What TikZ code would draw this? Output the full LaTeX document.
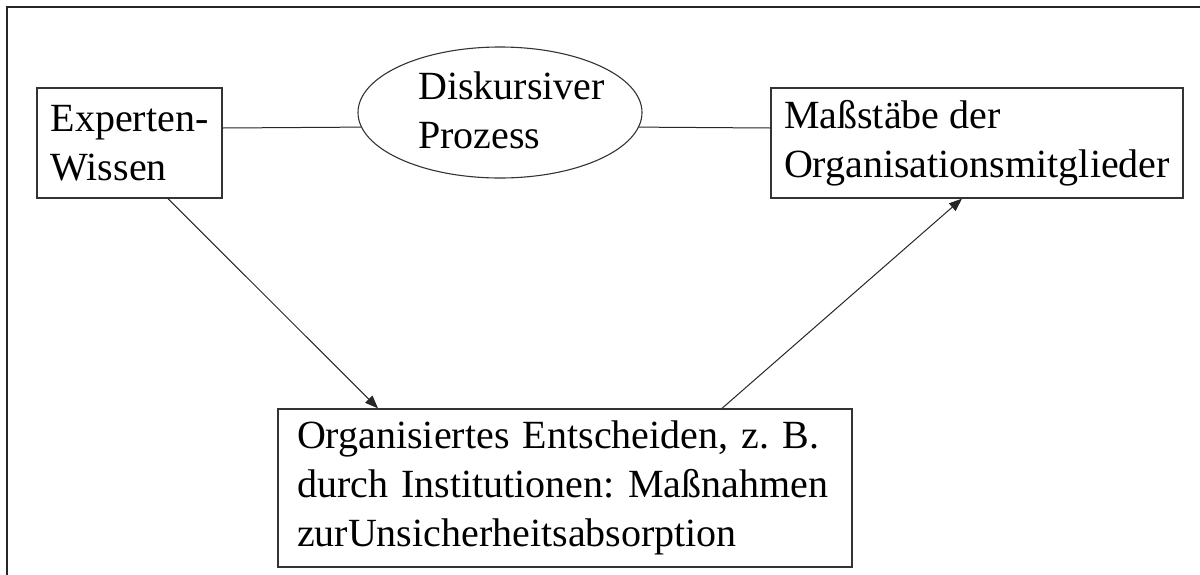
\documentclass[tikz,border=0pt]{standalone}
\usepackage{fontspec}
\setmainfont{Liberation Serif}
\usetikzlibrary{arrows.meta,shapes.geometric}
\frenchspacing
\begin{document}
\begin{tikzpicture}[x=1pt,y=-1pt,
  every node/.style={font=\fontsize{40}{49}\selectfont},
  boxnode/.style={draw=black!80, line width=1.3pt, rectangle, inner sep=0pt, align=left},
  ovalnode/.style={draw=black!80, line width=1.1pt, ellipse, inner sep=0pt},
  conn/.style={line width=1pt, draw=black!85},
  arr/.style={conn, -{Triangle[length=13pt,width=10pt]}},
  frameline/.style={line width=1.4pt, draw=black!85}]
\useasboundingbox (0,0) rectangle (1200,574);
\draw[frameline] (7,580) -- (7,7) -- (1205,7);
\node[boxnode, minimum width=185pt, minimum height=110pt] (expert) at (129.5,143) {Experten-\\Wissen};
\node[boxnode, minimum width=412pt, minimum height=110pt] (mass) at (977,143) {Maßstäbe der\\Organisationsmitglieder};
\node[boxnode, minimum width=574pt, minimum height=158pt, text width=536pt, inner xsep=19pt] (org) at (565,488) {Organisiertes Entscheiden, z. B.\\durch Institutionen: Maßnahmen\\zurUnsicherheitsabsorption};
\node[ovalnode, minimum width=284pt, minimum height=131pt] (proc) at (500,112.5) {};
\node[align=left, anchor=west, inner sep=0pt] (proctext) at (418,110) {Diskursiver\\Prozess};
\draw[conn] ([yshift=15pt]expert.east) -- (proc.186.6);
\draw[conn] (proc.-6.6) -- ([yshift=15pt]mass.west);
\draw[arr] ([xshift=38.5pt]expert.south) -- ([xshift=-187pt]org.north);
\draw[arr] ([xshift=157pt]org.north) -- ([xshift=-15pt]mass.south);
\end{tikzpicture}
\end{document}
